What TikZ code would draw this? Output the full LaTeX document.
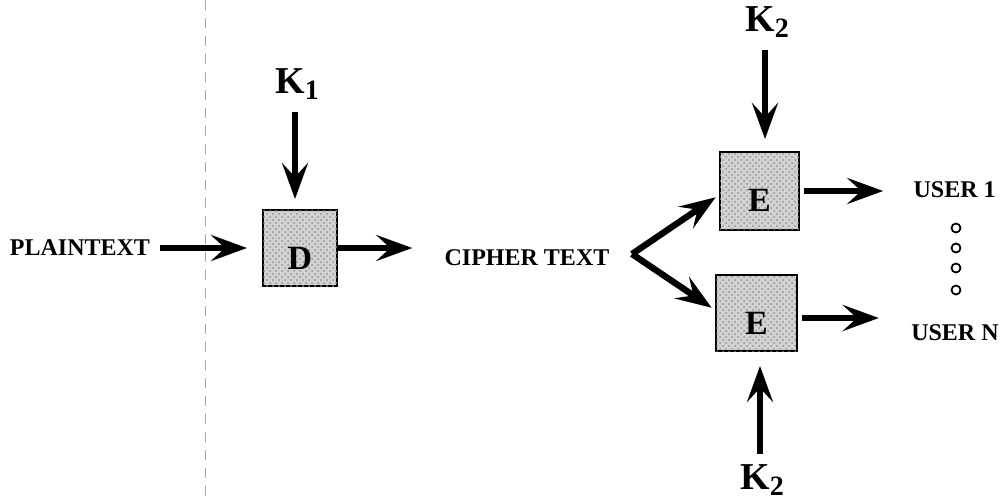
\documentclass[tikz,border=0pt]{standalone}
\usepackage{fontspec}
\setmainfont{Liberation Serif}
\usetikzlibrary{arrows.meta,patterns,calc}
\newcommand{\keysub}[1]{\raisebox{-0.35ex}{\fontsize{14}{15}\selectfont #1}}
\begin{document}
\begin{tikzpicture}[x=0.5pt,y=-0.5pt,
  lbl/.style={font=\fontsize{12}{14}\selectfont\bfseries, inner sep=1pt},
  keylbl/.style={font=\fontsize{19}{21}\selectfont\bfseries, inner sep=1pt},
  cipherbox/.style={draw, line width=1pt, inner sep=0pt,
    fill=gray!35, postaction={pattern=crosshatch dots, pattern color=gray!85}},
  boxlbl/.style={font=\fontsize{17}{19}\selectfont\bfseries, inner sep=0pt},
  flow/.style={line width=3.2pt, -{Stealth[length=18pt,width=13pt,inset=7pt]}},
  userdot/.style={circle, draw, line width=0.9pt, minimum size=4.5pt, inner sep=0pt},
]
\useasboundingbox (0,0) rectangle (1002,499);

% fold line of the page
\draw[gray!70, line width=0.5pt, dash pattern=on 5pt off 4pt] (205,0) -- (205,499);

% blocks
\node[cipherbox, minimum width=37pt, minimum height=38pt] (d) at (300,248) {};
\node[boxlbl] (dl) at ($(d)+(0,10)$) {D};
\node[cipherbox, minimum width=39.5pt, minimum height=39pt] (e1) at (759.5,191) {};
\node[boxlbl] (e1l) at ($(e1)+(0,9)$) {E};
\node[cipherbox, minimum width=40.5pt, minimum height=38pt] (e2) at (756.5,313) {};
\node[boxlbl] (e2l) at ($(e2)+(0,10)$) {E};

% labels
\node[lbl] (plain) at (80,248) {PLAINTEXT};
\node[lbl] (cipher) at (527,258) {CIPHER TEXT};
\node[lbl, anchor=east] (user1) at (998,190) {USER 1};
\node[lbl, anchor=east] (usern) at (1001,333) {USER N};
\node[keylbl] (k1) at (297,84) {K\keysub{1}};
\node[keylbl] (k2a) at (767,22) {K\keysub{2}};
\node[keylbl] (k2b) at (762,480) {K\keysub{2}};

% users in between
\foreach \yy in {228,248,268,290} \node[userdot] (u\yy) at (956,\yy) {};

\coordinate (fork) at (632,254);
\coordinate (k1t) at ($(k1.south)+(-2,0)$);
\coordinate (k2at) at ($(k2a.south)+(-2,0)$);
\coordinate (k2bt) at ($(k2b.north)+(-2,0)$);

% connectors
\draw[flow, shorten <=4pt, shorten >=7.5pt] (plain.east) -- (plain.east -| d.west);
\draw[flow, shorten >=15pt] (d.east) -- (d.east -| cipher.west);
\draw[flow, shorten <=5pt, shorten >=5pt] (k1t) -- (k1t |- d.north);
\draw[flow, shorten <=5pt, shorten >=6pt] (k2at) -- (k2at |- e1.north);
\draw[flow, shorten <=4pt, shorten >=7pt] (k2bt) -- (k2bt |- e2.south);
\draw[flow, shorten >=2pt] (fork) -- ($(e1.west)+(0,4)$);
\draw[flow, shorten >=2pt] (fork) -- ($(e2.west)+(0,-3)$);
\draw[flow, shorten <=2pt, shorten >=14pt] (e1.east) -- (e1.east -| user1.west);
\draw[flow, shorten <=2pt, shorten >=15pt] ($(e2.east)+(0,5)$) -- ($(e2.east -| usern.west)+(0,5)$);
\end{tikzpicture}
\end{document}
